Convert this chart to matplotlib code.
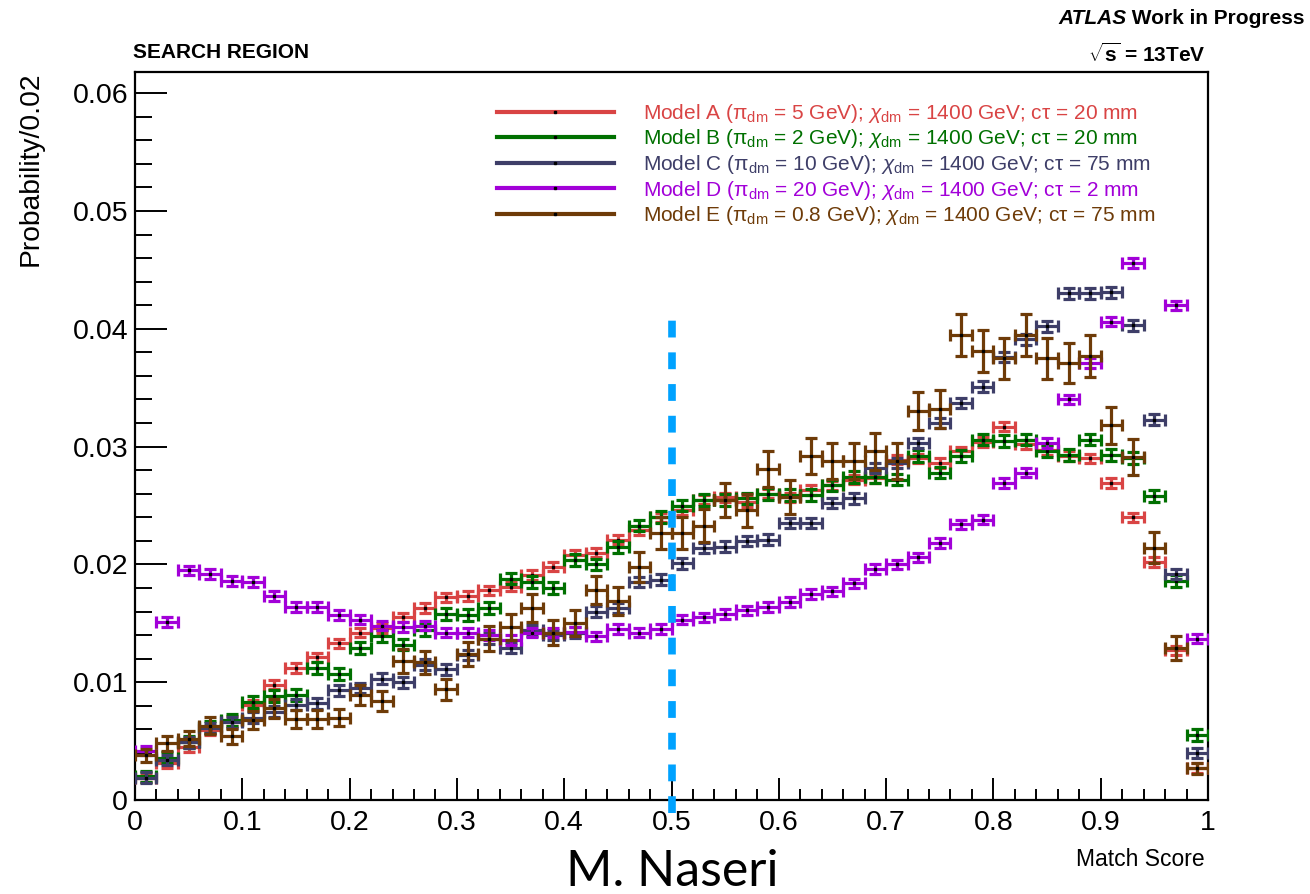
import numpy as np
import matplotlib
matplotlib.use('Agg')
import matplotlib.pyplot as plt
from matplotlib.lines import Line2D
from matplotlib.ticker import MultipleLocator, FixedFormatter, FixedLocator

plt.rcParams['font.family'] = ['Liberation Sans', 'DejaVu Sans']
plt.rcParams['mathtext.fontset'] = 'custom'
plt.rcParams['mathtext.rm'] = 'Liberation Sans'
plt.rcParams['mathtext.it'] = 'Liberation Sans:italic'
plt.rcParams['mathtext.bf'] = 'Liberation Sans:bold'

# ---------------- data ----------------
bin_width = 0.02
n_bins = 50
bin_centers = [round(bin_width * (i + 0.5), 3) for i in range(n_bins)]

model_a = [0.0019, 0.0031, 0.0045, 0.0059, 0.0067, 0.0081, 0.0098, 0.0112, 0.0121, 0.0133,
           0.0142, 0.0146, 0.0155, 0.0163, 0.0172, 0.0173, 0.0178, 0.0181, 0.0191, 0.0198,
           0.0208, 0.0210, 0.0221, 0.0229, 0.0240, 0.0246, 0.0255, 0.0257, 0.0253, 0.0260,
           0.0257, 0.0263, 0.0267, 0.0272, 0.0273, 0.0289, 0.0290, 0.0286, 0.0296, 0.0304,
           0.0317, 0.0302, 0.0297, 0.0292, 0.0290, 0.0269, 0.0240, 0.0202, 0.0127, 0.0027]
model_b = [0.0020, 0.0036, 0.0049, 0.0062, 0.0068, 0.0083, 0.0088, 0.0089, 0.0112, 0.0107,
           0.0129, 0.0139, 0.0132, 0.0144, 0.0158, 0.0157, 0.0163, 0.0188, 0.0185, 0.0180,
           0.0204, 0.0200, 0.0215, 0.0233, 0.0240, 0.0250, 0.0255, 0.0255, 0.0256, 0.0260,
           0.0259, 0.0259, 0.0267, 0.0274, 0.0274, 0.0272, 0.0292, 0.0278, 0.0292, 0.0306,
           0.0305, 0.0306, 0.0296, 0.0293, 0.0306, 0.0293, 0.0290, 0.0258, 0.0186, 0.0055]
model_c = [0.0019, 0.0034, 0.0049, 0.0061, 0.0066, 0.0070, 0.0075, 0.0081, 0.0082, 0.0093,
           0.0095, 0.0103, 0.0100, 0.0115, 0.0111, 0.0123, 0.0137, 0.0129, 0.0144, 0.0140,
           0.0142, 0.0160, 0.0163, 0.0185, 0.0187, 0.0201, 0.0214, 0.0215, 0.0220, 0.0221,
           0.0235, 0.0235, 0.0252, 0.0256, 0.0282, 0.0286, 0.0303, 0.0320, 0.0337, 0.0351,
           0.0376, 0.0391, 0.0402, 0.0430, 0.0430, 0.0431, 0.0403, 0.0323, 0.0192, 0.0040]
model_d = [0.0042, 0.0151, 0.0195, 0.0192, 0.0186, 0.0185, 0.0173, 0.0164, 0.0164, 0.0157,
           0.0153, 0.0148, 0.0147, 0.0148, 0.0142, 0.0142, 0.0140, 0.0136, 0.0142, 0.0142,
           0.0143, 0.0139, 0.0145, 0.0142, 0.0145, 0.0153, 0.0155, 0.0158, 0.0161, 0.0164,
           0.0168, 0.0175, 0.0177, 0.0184, 0.0196, 0.0200, 0.0206, 0.0218, 0.0234, 0.0238,
           0.0269, 0.0278, 0.0303, 0.0340, 0.0371, 0.0406, 0.0456, np.nan, 0.0420, 0.0137]
model_e = [0.0038, 0.0048, 0.0052, 0.0063, 0.0054, 0.0068, 0.0078, 0.0069, 0.0069, 0.0070,
           0.0089, 0.0084, 0.0118, 0.0117, 0.0094, 0.0124, 0.0137, 0.0147, 0.0163, 0.0142,
           0.0150, 0.0178, 0.0169, 0.0198, 0.0227, 0.0227, 0.0233, 0.0255, 0.0246, 0.0281,
           0.0257, 0.0292, 0.0288, 0.0288, 0.0296, 0.0288, 0.0330, 0.0332, 0.0395, 0.0381,
           0.0375, 0.0395, 0.0375, 0.0371, 0.0377, 0.0318, 0.0291, 0.0214, 0.0129, 0.0027]
model_e_err = [0.00055, 0.00062, 0.00065, 0.00071, 0.00066, 0.00074, 0.00080, 0.00075, 0.00075, 0.00075,
               0.00085, 0.00082, 0.00098, 0.00097, 0.00087, 0.00100, 0.00105, 0.00110, 0.00115, 0.00107,
               0.00110, 0.00120, 0.00117, 0.00127, 0.00136, 0.00136, 0.00137, 0.00144, 0.00141, 0.00150,
               0.00144, 0.00154, 0.00153, 0.00153, 0.00155, 0.00153, 0.00163, 0.00164, 0.00179, 0.00176,
               0.00174, 0.00179, 0.00174, 0.00173, 0.00175, 0.00160, 0.00153, 0.00132, 0.00102, 0.00047]
small_err = {'A': 0.0004, 'B': 0.0005, 'C': 0.00045, 'D': 0.0004}

labels = [
    r'Model A (π$_{\rm dm}$ = 5 GeV); $\chi_{\rm dm}$ = 1400 GeV; cτ = 20 mm',
    r'Model B (π$_{\rm dm}$ = 2 GeV); $\chi_{\rm dm}$ = 1400 GeV; cτ = 20 mm',
    r'Model C (π$_{\rm dm}$ = 10 GeV); $\chi_{\rm dm}$ = 1400 GeV; cτ = 75 mm',
    r'Model D (π$_{\rm dm}$ = 20 GeV); $\chi_{\rm dm}$ = 1400 GeV; cτ = 2 mm',
    r'Model E (π$_{\rm dm}$ = 0.8 GeV); $\chi_{\rm dm}$ = 1400 GeV; cτ = 75 mm',
]
colors = ['#d94444', '#007000', '#3e3e68', '#a200d8', '#6e3b08']

xticks = [0, 0.1, 0.2, 0.3, 0.4, 0.5, 0.6, 0.7, 0.8, 0.9, 1.0]
xtick_labels = ['0', '0.1', '0.2', '0.3', '0.4', '0.5', '0.6', '0.7', '0.8', '0.9', '1']
yticks = [0, 0.01, 0.02, 0.03, 0.04, 0.05, 0.06]
ytick_labels = ['0', '0.01', '0.02', '0.03', '0.04', '0.05', '0.06']
cut_value = 0.5
cut_top = 0.0418

# ---------------- figure ----------------
W, H = 1310, 894
fig = plt.figure(figsize=(W / 100, H / 100), dpi=100)
ax = fig.add_axes([135 / W, 1 - 800 / H, 1073 / W, 728 / H])

series = [(model_a, [small_err['A']] * n_bins),
          (model_b, [small_err['B']] * n_bins),
          (model_c, [small_err['C']] * n_bins),
          (model_d, [small_err['D']] * n_bins),
          (model_e, model_e_err)]

x = np.array(bin_centers)
for i, ((vals, errs), c) in enumerate(zip(series, colors)):
    y = np.array(vals, dtype=float)
    e = np.array(errs, dtype=float)
    m = ~np.isnan(y)
    ax.errorbar(x[m], y[m], xerr=bin_width / 2, yerr=e[m], fmt='s', ms=1.6,
                mfc='k', mec='k', ecolor=c, elinewidth=2.3, capsize=4.5,
                capthick=2.3, zorder=3 + i)

ax.plot([cut_value, cut_value], [-0.0011, cut_top], color='#00a2ff', lw=5.5,
        dashes=(2.2, 1.95), clip_on=False, zorder=10, solid_capstyle='butt',
        dash_capstyle='butt')

ax.set_xlim(0, 1)
ax.set_ylim(0, 0.0618)
ax.xaxis.set_major_locator(FixedLocator(xticks))
ax.xaxis.set_major_formatter(FixedFormatter(xtick_labels))
ax.yaxis.set_major_locator(FixedLocator(yticks))
ax.yaxis.set_major_formatter(FixedFormatter(ytick_labels))
ax.xaxis.set_minor_locator(MultipleLocator(0.02))
ax.yaxis.set_minor_locator(MultipleLocator(0.002))

ax.tick_params(axis='x', which='major', direction='in', length=15.8, width=1.4,
               labelsize=20.5, pad=7, top=False)
ax.tick_params(axis='x', which='minor', direction='in', length=8, width=1.4, top=False)
ax.tick_params(axis='y', which='major', direction='in', length=23, width=1.4,
               labelsize=20.5, pad=5, right=False)
ax.tick_params(axis='y', which='minor', direction='in', length=12, width=1.4, right=False)
for s in ax.spines.values():
    s.set_linewidth(1.6)

handles = [Line2D([], [], color=c, lw=3, marker='s', ms=1.6, mfc='k', mec='k') for c in colors]
ax.legend(handles, labels, loc='upper left', bbox_to_anchor=((497 - 135) / 1073, (800 - 102) / 728),
          frameon=False, fontsize=15, handlelength=5.6, handletextpad=1.4,
          labelspacing=0.12, borderpad=0, borderaxespad=0, labelcolor='linecolor')

# ---------------- texts ----------------
fig.text(31 / W, 1 - 72 / H, 'Probability/0.02', rotation=90, ha='center', va='top', fontsize=20.3)
fig.text(1205 / W, 1 - 860 / H, 'Match Score', ha='right', va='center', fontsize=16.5)
fig.text(133 / W, 1 - 53 / H, 'SEARCH REGION', ha='left', va='center', fontsize=15, weight='bold')
fig.text(1205 / W, 1 - 54 / H, r'$\mathbf{\sqrt{s}}$ = 13TeV', ha='right', va='center',
         fontsize=15, weight='bold')
t2 = fig.text(1305 / W, 1 - 19 / H, ' Work in Progress', ha='right', va='center',
              fontsize=15, weight='bold')
fig.canvas.draw()
bb = t2.get_window_extent()
fig.text(bb.x0 / W, 1 - 19 / H, 'ATLAS', ha='right', va='center', fontsize=15,
         weight='bold', style='italic')
fig.text(672 / W, 1 - 872 / H, 'M. Naseri', ha='center', va='center', fontsize=36,
         family=['Lato', 'DejaVu Sans'])

fig.savefig('out.png', dpi=100)
